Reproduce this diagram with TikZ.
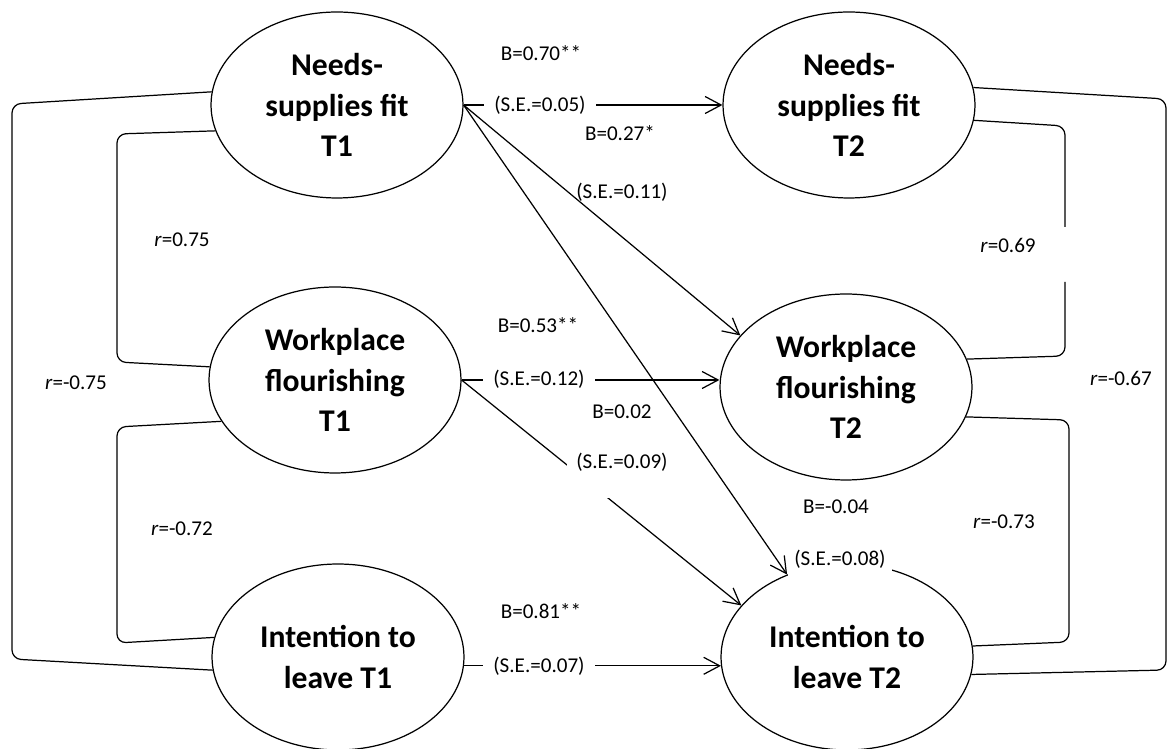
\documentclass[tikz,border=0pt]{standalone}
\usepackage{fontspec}
\setmainfont{Carlito}
\usetikzlibrary{arrows.meta}
\usetikzlibrary{shapes.geometric}

\begin{document}
\begin{tikzpicture}[x=0.02cm, y=-0.02cm, line width=0.7pt,
    latent/.style={draw, ellipse, minimum width=5.04cm, minimum height=3.72cm, inner sep=0pt,
        align=center, font=\fontsize{18}{23}\selectfont\bfseries},
    est/.style={inner sep=0pt, font=\fontsize{12}{14}\selectfont},
    cover/.style={est, fill=white, minimum width=2.26cm, minimum height=0.48cm},
    regr/.style={-{Straight Barb[length=3.2mm, width=3.4mm]}},
    corr/.style={rounded corners=0.18cm}]
        \useasboundingbox (0,0) rectangle (1171,749);

        % Latent variables
        \node[latent] (fitA) at (337,105) {Needs-\\supplies fit\\T1};
        \node[latent] (fitB) at (849,105) {Needs-\\supplies fit\\T2};
        \node[latent] (flourA) at (335,380) {Workplace\\flourishing\\T1};
        \node[latent] (flourB) at (846,387) {Workplace\\flourishing\\T2};
        \node[latent] (leaveA) at (338,657) {Intention to\\leave T1};
        \node[latent] (leaveB) at (847,657) {Intention to\\leave T2};

        % Cross-lagged paths
        \draw[regr] (fitA.east) -- (fitB.west);
        \draw[regr] (fitA.east) -- (flourB.154);
        \draw[regr] (fitA.east) -- (leaveB.126);
        \draw[regr] (flourA.east) -- (flourA.east -| flourB.west);
        \draw[regr] (flourA.east) -- (leaveB.154);
        \draw[regr] (leaveA.-4) -- (leaveB.184);

        % Correlations
        \draw[corr] (fitA.174) -- (12,104) -- (12,659) -- (leaveA.186);
        \draw[corr] (fitA.192) -- (117,134) -- (117,362) -- (flourA.174);
        \draw[corr] (flourA.200) -- (117,427) -- (117,643) -- (leaveA.171);
        \draw[corr] (fitB.8) -- (1166,99) -- (1166,670) -- (leaveB.-8);
        \draw[corr] (fitB.-7) -- (1065,126) -- (1065,227) (1065,282) -- (1065,356) -- (flourB.13);
        \draw[corr] (flourB.-14) -- (1069,420) -- (1069,642) -- (leaveB.5);

        % Estimates
        \node[est] (bFit) at (541,53) {B=0.70**};
        \node[cover] (seFit) at (540,105) {(S.E.=0.05)};
        \node[est] (bFitFl) at (620,133) {B=0.27*};
        \node[est] (seFitFl) at (622,192) {(S.E.=0.11)};
        \node[est] (bFl) at (538,325) {B=0.53**};
        \node[cover] (seFl) at (539,379) {(S.E.=0.12)};
        \node[est] (bFlLv) at (622,412) {B=0.02};
        \node[cover, minimum width=2.2cm, minimum height=1.44cm] (seFlLv) at (622,462) {(S.E.=0.09)};
        \node[est] (bFitLv) at (836,507) {B=-0.04};
        \node[cover, minimum width=2.08cm, minimum height=0.76cm] (seFitLv) at (840,559) {(S.E.=0.08)};
        \node[est] (bLv) at (541,611) {B=0.81**};
        \node[cover] (seLv) at (539,666) {(S.E.=0.07)};

        \node[est] (rA) at (182,240) {\textit{r}=0.75};
        \node[est] (rB) at (76,383) {\textit{r}=-0.75};
        \node[est] (rC) at (182,529) {\textit{r}=-0.72};
        \node[est] (rD) at (1008,245) {\textit{r}=0.69};
        \node[est] (rE) at (1121,378) {\textit{r}=-0.67};
        \node[est] (rF) at (1004,522) {\textit{r}=-0.73};
\end{tikzpicture}
\end{document}
